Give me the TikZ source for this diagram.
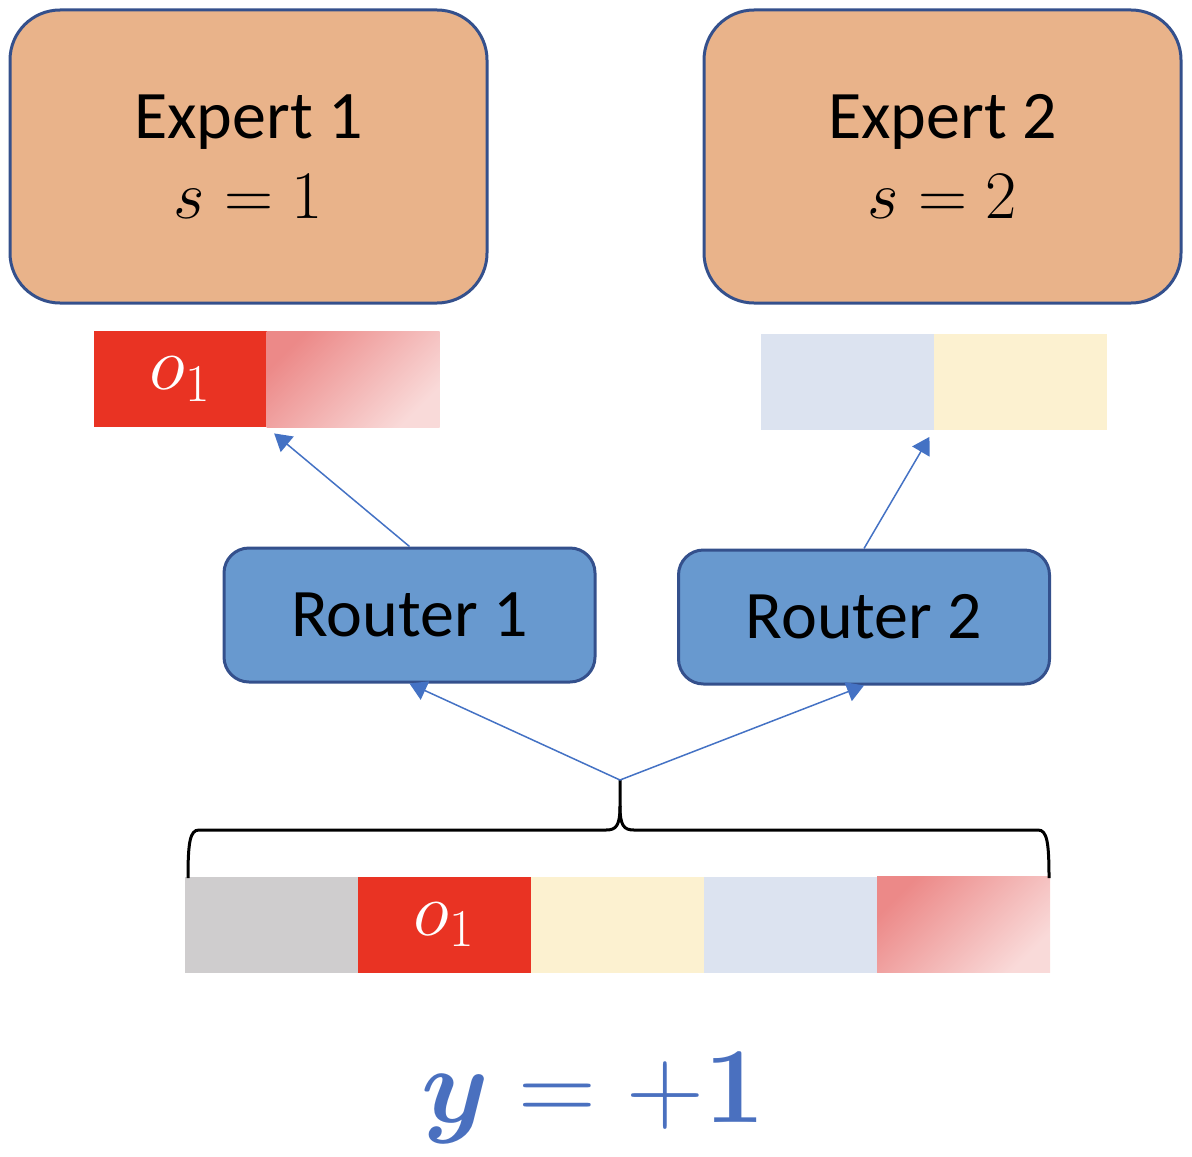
\RequirePackage{fix-cm}
\documentclass[tikz,border=0pt]{standalone}
\usepackage{amsmath}
\usepackage{amssymb}
\usepackage[no-math]{fontspec}
\setmainfont{Carlito}
\usepackage{tikz}
\usetikzlibrary{arrows.meta}
\usetikzlibrary{calc}
\usetikzlibrary{positioning}
\definecolor{expertfill}{HTML}{E9B38A}
\definecolor{boxline}{HTML}{34508C}
\definecolor{routerfill}{HTML}{6899CF}
\definecolor{cellred}{HTML}{E93323}
\definecolor{cellgrey}{HTML}{CFCDCE}
\definecolor{cellyellow}{HTML}{FCF1D0}
\definecolor{cellblue}{HTML}{DCE3F0}
\definecolor{gradtop}{HTML}{EC8988}
\definecolor{gradbot}{HTML}{F9DAD9}
\definecolor{arrowblue}{HTML}{4472C4}
\definecolor{labelblue}{HTML}{4A70BF}
\newcommand{\TikZscale}{0.5}
\newcommand{\px}{*\TikZscale pt}
\newcommand{\otok}{\raisebox{-4pt}{$o_1$}\hspace{10pt}}
\tikzset{every picture/.style={>={Triangle[length=17\px,width=20\px]}}}
\tikzstyle{expert}  = [draw=boxline, line width=3\px, fill=expertfill, rounded corners=50\px, minimum width=477\px, minimum height=293\px, align=center, font=\fontsize{34}{40}\selectfont]
\tikzstyle{router}  = [draw=boxline, line width=3\px, fill=routerfill, rounded corners=25\px, minimum width=371\px, minimum height=134\px, font=\fontsize{34}{40}\selectfont]
\tikzstyle{cell}    = [rectangle, minimum width=173\px, minimum height=96\px, inner sep=0pt, outer sep=0pt, text=white, font=\fontsize{38}{40}\selectfont]
\tikzstyle{fade}    = [top color=gradtop, bottom color=gradbot, shading angle=45]
\tikzstyle{conn}    = [->, line width=1.5\px, draw=arrowblue]
\tikzstyle{brace}   = [line width=3\px, black]

\begin{document}
\begin{tikzpicture}[x=0.5pt, y=-0.5pt]
	\useasboundingbox (0,0) rectangle (1192,1156);
	\node[expert]	(e1)	at (248.5,156.5)	{Expert 1\\$s=1$};
	\node[expert]	(e2)	at (942.5,156.5)	{Expert 2\\$s=2$};
	
	\node[cell, fill=cellred]		(a1)	at (180,379)		{\otok};
	\node[cell, fade]				(a2)	[right=0pt of a1]	{};
	\node[cell, fill=cellblue]		(b1)	at (847,382)		{};
	\node[cell, fill=cellyellow]	(b2)	[right=0pt of b1]	{};
	
	\node[router]	(r1)	at (409.5,615)	{Router 1};
	\node[router]	(r2)	at (864,617)	{Router 2};
	
	\node[cell, fill=cellgrey]		(x1)	at (271.5,924.5)	{};
	\node[cell, fill=cellred]		(x2)	[right=0pt of x1]	{\otok};
	\node[cell, fill=cellyellow]	(x3)	[right=0pt of x2]	{};
	\node[cell, fill=cellblue]		(x4)	[right=0pt of x3]	{};
	\node[cell, fade]				(x5)	[right=0pt of x4]	{};
	
	\coordinate	(bl)	at (188,878);
	\coordinate	(br)	at (1049,878);
	\coordinate	(tip)	at (620,780);
	\draw[brace] (bl) .. controls (188,842) and (190,830) .. (199,830) -- (606,830)
		.. controls (616,830) and (620,826) .. (620,806) -- (tip);
	\draw[brace] (br) .. controls (1049,842) and (1047,830) .. (1038,830) -- (634,830)
		.. controls (624,830) and (620,826) .. (620,806);
	
	\draw[conn] (tip) -- (r1.south);
	\draw[conn] (tip) -- (r2.south);
	\draw[conn, shorten >=5pt] (r1.north) -- (a1.south east);
	\draw[conn, shorten >=4pt] (r2.north) -- (b1.south east);
	
	\node[text=labelblue, font=\fontsize{54}{60}\selectfont] (lab) at (593,1098) {$\boldsymbol{y} = +\mathbf{1}$};
\end{tikzpicture}
\end{document}
